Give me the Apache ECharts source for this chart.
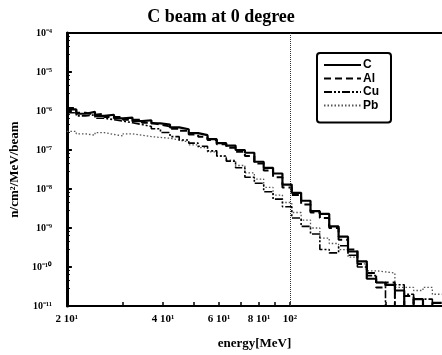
<!DOCTYPE html>
<html>
<head>
<meta charset="utf-8">
<script src="https://cdn.jsdelivr.net/npm/echarts@6/dist/echarts.min.js"></script>
<style>html,body{margin:0;padding:0;background:#fff;}#chart{width:442px;height:355px;}</style>
</head>
<body>
<div id="chart"></div>
<script>
// Energy bin edges (MeV)
var binEdges = [20, 21.4, 22.9, 24.5, 26.2, 28.1, 30.0, 32.1, 34.4, 36.8, 39.3, 42.1, 45.0, 48.2, 51.6, 55.2, 59.0, 63.2, 67.6, 72.3, 77.4, 82.8, 88.6, 94.8, 101.4, 108.5, 116.1, 124.2, 132.9, 142.2, 152.2, 162.9, 174.3, 186.5, 199.5, 213.5, 228.4, 244.4, 261.5, 279.8, 299.4];

var cValues = [1.1e-6, 8.5e-7, 9.5e-7, 7.5e-7, 8e-7, 6.5e-7, 6.8e-7, 5.5e-7, 5.8e-7, 4.8e-7,
  4.5e-7, 3.8e-7, 3.4e-7, 2.7e-7, 2.4e-7, 1.9e-7, 1.5e-7, 1.3e-7, 1.0e-7, 8.5e-8,
  5e-8, 3.5e-8, 2.5e-8, 1.3e-8, 8e-9, 5e-9, 2.7e-9, 2.3e-9, 1.1e-9, 6e-10,
  2.5e-10, 1.4e-10, 5e-11, 4e-11, 3.5e-11, 2.5e-11, 1e-11, 1.5e-11, 1e-11, 1.2e-11];

var alValues = [1.2e-6, 9e-7, 8e-7, 8.5e-7, 7e-7, 7e-7, 6e-7, 6e-7, 5e-7, 4.5e-7,
  4e-7, 3.5e-7, 3.1e-7, 2.5e-7, 2.2e-7, 1.8e-7, 1.4e-7, 1.15e-7, 9e-8, 7e-8,
  4.5e-8, 3e-8, 2e-8, 1.1e-8, 7e-9, 4e-9, 2.5e-9, 1.8e-9, 1e-9, 5e-10,
  2.8e-10, 1.2e-10, 7e-11, 3e-11, 4e-11, 1e-11, 1.8e-11, 1e-11, 1e-11, 1e-11];

var cuValues = [9e-7, 7.5e-7, 8e-7, 6.5e-7, 6e-7, 5.5e-7, 5e-7, 4.5e-7, 4e-7, 3.5e-7,
  2.8e-7, 2.2e-7, 1.8e-7, 1.5e-7, 1.25e-7, 9.5e-8, 7e-8, 5.2e-8, 3.5e-8, 2e-8,
  1.4e-8, 8.5e-9, 5.5e-9, 3.5e-9, 1.8e-9, 1.1e-9, 7e-10, 2.8e-10, 2.3e-10, 3.5e-10,
  2e-10, 1e-10, 6e-11, 4e-11, 1e-11, 3.5e-11, 2e-11, 1e-11, 1.5e-11, 1e-11];

var pbValues = [3e-7, 2.6e-7, 2.4e-7, 2.8e-7, 2.5e-7, 2.3e-7, 2.6e-7, 2.4e-7, 2.2e-7, 2.1e-7,
  2.0e-7, 1.8e-7, 1.6e-7, 1.35e-7, 1.15e-7, 9e-8, 7e-8, 5.5e-8, 4e-8, 2.6e-8,
  1.8e-8, 1.1e-8, 7e-9, 4.5e-9, 2.5e-9, 1.6e-9, 1e-9, 5.5e-10, 4e-10, 2.8e-10,
  1.8e-10, 1.2e-10, 8e-11, 7.5e-11, 7e-11, 3e-11, 3e-11, 2.5e-11, 3e-11, 2e-11];

var xTickValues = [30, 40, 50, 60, 70, 80, 90, 100, 200];
var xLabelValues = [20, 40, 60, 80, 100];
var xLabelTexts = ['2 10\u00b9', '4 10\u00b9', '6 10\u00b9', '8 10\u00b9', '10\u00b2'];
var yLabelTexts = {'-4': '10\u207b\u2074', '-5': '10\u207b\u2075', '-6': '10\u207b\u2076', '-7': '10\u207b\u2077', '-8': '10\u207b\u2078', '-9': '10\u207b\u2079', '-10': '10\u207b\u00b9\u2070', '-11': '10\u207b\u00b9\u00b9'};

function hist(vals) {
  var d = [];
  for (var i = 0; i < vals.length; i++) d.push([binEdges[i], vals[i]]);
  d.push([binEdges[vals.length], vals[vals.length - 1]]);
  return d;
}

var chart = echarts.init(document.getElementById('chart'));
var serif = 'Liberation Serif';
chart.setOption({
  animation: false,
  backgroundColor: '#fff',
  title: {
    text: 'C beam at 0 degree',
    left: 'center',
    top: 3,
    textStyle: {fontFamily: serif, fontWeight: 'bold', fontSize: 18, color: '#000'}
  },
  legend: {
    orient: 'vertical',
    left: 317,
    top: 53,
    width: 75,
    padding: [6, 12, 11, 6],
    itemGap: 1.5,
    itemWidth: 37,
    itemHeight: 8,
    borderColor: '#000',
    borderWidth: 2,
    borderRadius: 3,
    backgroundColor: '#fff',
    itemStyle: {opacity: 0},
    textStyle: {fontFamily: 'Liberation Sans', fontWeight: 'bold', fontSize: 12, lineHeight: 12, color: '#000', padding: [0, 0, 0, -3]},
    data: ['C', 'Al', 'Cu', 'Pb']
  },
  grid: {left: 55, top: 33, right: -3, bottom: 48, containLabel: false},
  xAxis: [{
    type: 'log',
    logBase: 10,
    min: 20,
    max: 300,
    name: 'energy[MeV]',
    nameLocation: 'middle',
    nameGap: 31,
    nameTextStyle: {fontFamily: serif, fontWeight: 'bold', fontSize: 13, color: '#000'},
    axisLine: {show: true, lineStyle: {color: '#000', width: 2}},
    axisTick: {show: true, inside: true, length: 4, customValues: xTickValues, lineStyle: {color: '#000', width: 1.5}},
    axisLabel: {
      customValues: xLabelValues,
      margin: 8,
      fontFamily: serif, fontWeight: 'bold', fontSize: 11, color: '#000',
      formatter: function (v) {
        var i = xLabelValues.indexOf(Math.round(v));
        return i >= 0 ? xLabelTexts[i] : '';
      }
    },
    splitLine: {show: false}
  }, {
    type: 'log',
    position: 'top',
    min: 20,
    max: 300,
    axisLine: {show: true, lineStyle: {color: '#000', width: 2}},
    axisTick: {show: false},
    axisLabel: {show: false},
    splitLine: {show: false}
  }],
  yAxis: {
    type: 'log',
    logBase: 10,
    min: 1e-11,
    max: 1e-4,
    name: 'n/cm\u00b2/MeV/beam',
    nameLocation: 'middle',
    nameGap: 44,
    nameTextStyle: {fontFamily: serif, fontWeight: 'bold', fontSize: 13, color: '#000'},
    axisLine: {show: true, lineStyle: {color: '#000', width: 3}},
    axisTick: {show: true, inside: true, length: 5, lineStyle: {color: '#000', width: 2}},
    minorTick: {show: true, splitNumber: 5, length: 3, lineStyle: {color: '#000', width: 1}},
    axisLabel: {
      margin: 15,
      fontFamily: serif, fontWeight: 'bold', fontSize: 10, color: '#000',
      formatter: function (v) {
        var e = Math.round(Math.log10(v));
        return yLabelTexts[String(e)] || '';
      }
    },
    splitLine: {show: false}
  },
  series: [{
    name: 'C', type: 'line', step: 'end', symbol: 'none', data: hist(cValues),
    lineStyle: {color: '#000', width: 2.2, type: 'solid'}, itemStyle: {color: '#000'},
    z: 5,
    markLine: {
      silent: true, symbol: 'none', label: {show: false},
      lineStyle: {color: '#333', width: 1, type: [1, 1]},
      data: [{xAxis: 100}]
    }
  }, {
    name: 'Al', type: 'line', step: 'end', symbol: 'none', data: hist(alValues),
    lineStyle: {color: '#000', width: 2, type: [7, 4]}, itemStyle: {color: '#000'}, z: 4
  }, {
    name: 'Cu', type: 'line', step: 'end', symbol: 'none', data: hist(cuValues),
    lineStyle: {color: '#000', width: 1.6, type: [8, 2, 2, 2, 2, 2]}, itemStyle: {color: '#000'}, z: 3
  }, {
    name: 'Pb', type: 'line', step: 'end', symbol: 'none', data: hist(pbValues),
    lineStyle: {color: '#555', width: 1.3, type: [1.5, 2]}, itemStyle: {color: '#555'}, z: 2
  }]
});
</script>
</body>
</html>
